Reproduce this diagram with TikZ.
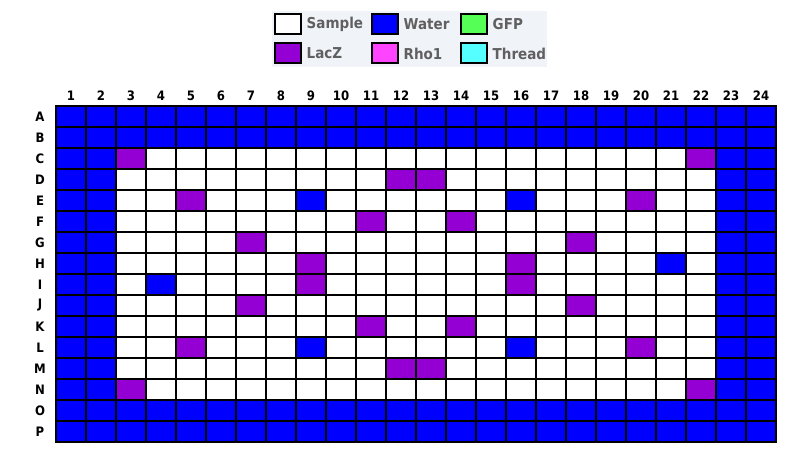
\documentclass[tikz,border=0pt]{standalone}
\usepackage{fontspec}
\setmainfont{DejaVu Sans Condensed}
\usetikzlibrary{
  positioning,
}
\definecolor{waterblue}{HTML}{0000FF}
\definecolor{laczviolet}{HTML}{9400D3}
\definecolor{gfpgreen}{HTML}{55FF55}
\definecolor{rhopink}{HTML}{FF44FF}
\definecolor{threadcyan}{HTML}{55FFFF}
\definecolor{keyback}{HTML}{F0F4F8}
\definecolor{keygray}{HTML}{606060}

\begin{document}
\begin{tikzpicture}[
    x=1pt, y=-1pt,
    cell/.style={
        rectangle, draw=black, line width=2pt,
        minimum width=30pt, minimum height=21pt,
        inner sep=0pt, outer sep=0pt,
      },
    swatch/.style={
        rectangle, draw=black, line width=2pt,
        minimum width=26pt, minimum height=20pt,
        inner sep=0pt,
      },
    keytext/.style={
        anchor=west, inner sep=0pt, text=keygray,
        font=\fontsize{15}{17}\selectfont\bfseries,
      },
    axis/.style={
        inner sep=0pt, font=\fontsize{13}{15}\selectfont\bfseries,
      },
    sam/.style={fill=white},
    wat/.style={fill=waterblue},
    lac/.style={fill=laczviolet},
    gfp/.style={fill=gfpgreen},
    rho/.style={fill=rhopink},
    thr/.style={fill=threadcyan},
  ]
  \useasboundingbox (0,0) rectangle (800,462);

  % legend
  \node[fill=keyback, minimum width=275pt, minimum height=56pt, inner sep=0pt]
    (legend) at (409.5,39) {};
  \foreach \i/\x/\y/\k/\n in {
      1/287.5/24/sam/Sample,
      2/384.5/24/wat/Water,
      3/473.5/24/gfp/GFP,
      4/287.5/53.5/lac/LacZ,
      5/384.5/53.5/rho/Rho1,
      6/473.5/53.5/thr/Thread}{
      \node[swatch, \k] (key\i) at (\x,\y) {};
      \node[keytext, right=5pt of key\i] (keylbl\i) {\n};
    }

  % wells that are not sample or border water
  \foreach \r/\c/\k in {
      3/3/lac, 3/22/lac, 4/12/lac, 4/13/lac,
      5/5/lac, 5/9/wat, 5/16/wat, 5/20/lac,
      6/11/lac, 6/14/lac, 7/7/lac, 7/18/lac,
      8/9/lac, 8/16/lac, 8/21/wat,
      9/4/wat, 9/9/lac, 9/16/lac,
      10/7/lac, 10/18/lac, 11/11/lac, 11/14/lac,
      12/5/lac, 12/9/wat, 12/16/wat, 12/20/lac,
      13/12/lac, 13/13/lac, 14/3/lac, 14/22/lac}{
      \expandafter\xdef\csname well-\r-\c\endcsname{\k}
    }

  % column numbers
  \foreach \c in {1,...,24}{
      \node[axis] (col\c) at (41+30*\c,96) {\c};
    }

  % plate
  \foreach \r/\lbl in {
      1/A, 2/B, 3/C, 4/D, 5/E, 6/F, 7/G, 8/H,
      9/I, 10/J, 11/K, 12/L, 13/M, 14/N, 15/O, 16/P}{
      \node[axis] (row\lbl) at (40,95.5+21*\r) {\lbl};
      \foreach \c in {1,...,24}{
          \def\k{sam}
          \ifnum\r<3 \def\k{wat}\fi
          \ifnum\r>14 \def\k{wat}\fi
          \ifnum\c<3 \def\k{wat}\fi
          \ifnum\c>22 \def\k{wat}\fi
          \ifcsname well-\r-\c\endcsname
            \edef\k{\csname well-\r-\c\endcsname}%
          \fi
          \node[cell, \k] (\lbl\c) at (41+30*\c,95.5+21*\r) {};
        }
    }
\end{tikzpicture}
\end{document}
